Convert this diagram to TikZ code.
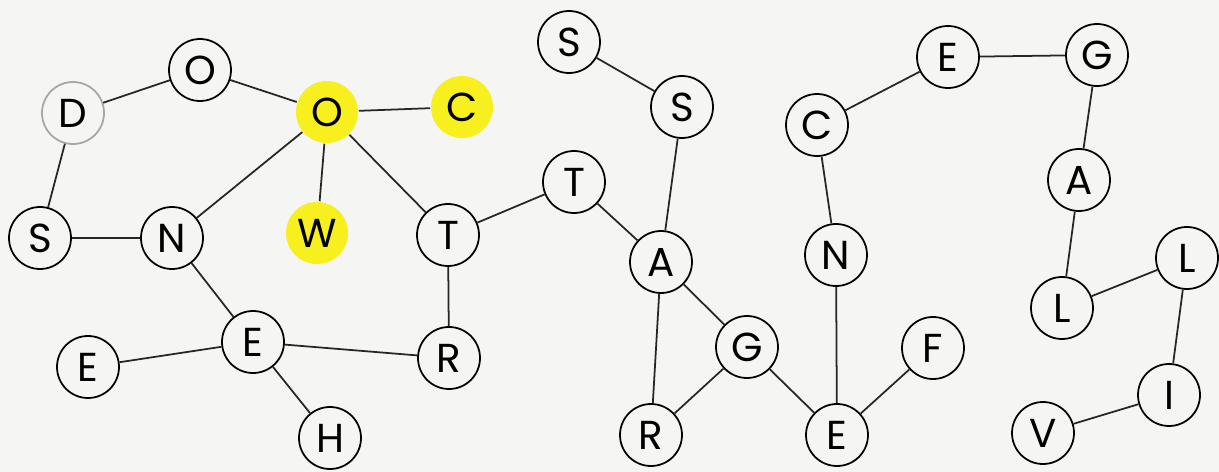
\documentclass[tikz,border=0pt]{standalone}
\usepackage{fontspec}
\setmainfont{Poppins}
\usepackage{xcolor}
\usepackage{tikz}
\usetikzlibrary{positioning}

\definecolor{paper}{RGB}{245,245,244}
\definecolor{hilite}{RGB}{247,240,30}

\begin{document}
\begin{tikzpicture}[
    letter/.style={circle, draw=black, line width=1pt, fill=paper, minimum size=1.24cm, inner sep=0pt, font=\fontsize{23}{23}\selectfont},
    marked/.style={letter, draw=none, fill=hilite},
    faint/.style={letter, draw=gray!70},
    edge/.style={line width=1pt, draw=black!85}
]
% Background
\fill[paper] (0,0) rectangle (24.38,-9.44);
\useasboundingbox (0,0) rectangle (24.38,-9.44);

% Nodes, left group
\node[faint]  (d)  at (1.46,-2.26) {D};
\node[letter] (o1) at (4.00,-1.40) {O};
\node[marked] (o2) at (6.54,-2.24) {O};
\node[marked] (c1) at (9.24,-2.14) {C};
\node[letter] (s1) at (0.80,-4.76) {S};
\node[letter] (n1) at (3.44,-4.76) {N};
\node[marked] (w)  at (6.34,-4.66) {W};
\node[letter] (t1) at (8.96,-4.70) {T};
\node[letter] (e1) at (5.06,-6.84) {E};
\node[letter] (e2) at (1.76,-7.34) {E};
\node[letter] (r1) at (8.98,-7.16) {R};
\node[letter] (h)  at (6.60,-8.76) {H};

% Nodes, middle group
\node[letter] (s2) at (11.38,-0.84) {S};
\node[letter] (s3) at (13.64,-2.14) {S};
\node[letter] (t2) at (11.48,-3.64) {T};
\node[letter] (a1) at (13.22,-5.24) {A};
\node[letter] (g1) at (14.94,-6.94) {G};
\node[letter] (r2) at (13.02,-8.70) {R};
\node[letter] (e3) at (16.74,-8.70) {E};
\node[letter] (f)  at (18.66,-6.96) {F};
\node[letter] (n2) at (16.72,-5.10) {N};
\node[letter] (c2) at (16.34,-2.50) {C};

% Nodes, right group
\node[letter] (e4) at (18.96,-1.14) {E};
\node[letter] (g2) at (21.94,-1.10) {G};
\node[letter] (a2) at (21.58,-3.60) {A};
\node[letter] (l1) at (21.24,-6.16) {L};
\node[letter] (l2) at (23.74,-5.16) {L};
\node[letter] (i)  at (23.38,-7.90) {I};
\node[letter] (v)  at (20.86,-8.66) {V};

% Edges
\draw[edge] (d) -- (o1);
\draw[edge] (o1) -- (o2);
\draw[edge] (d) -- (s1);
\draw[edge] (s1) -- (n1);
\draw[edge] (n1) -- (o2);
\draw[edge] (o2) -- (c1);
\draw[edge] (o2) -- (w);
\draw[edge] (o2) -- (t1);
\draw[edge] (n1) -- (e1);
\draw[edge] (e2) -- (e1);
\draw[edge] (e1) -- (r1);
\draw[edge] (e1) -- (h);
\draw[edge] (t1) -- (r1);
\draw[edge] (t1) -- (t2);
\draw[edge] (t2) -- (a1);
\draw[edge] (s2) -- (s3);
\draw[edge] (s3) -- (a1);
\draw[edge] (a1) -- (g1);
\draw[edge] (a1) -- (r2);
\draw[edge] (r2) -- (g1);
\draw[edge] (g1) -- (e3);
\draw[edge] (e3) -- (f);
\draw[edge] (e3) -- (n2);
\draw[edge] (n2) -- (c2);
\draw[edge] (c2) -- (e4);
\draw[edge] (e4) -- (g2);
\draw[edge] (g2) -- (a2);
\draw[edge] (a2) -- (l1);
\draw[edge] (l1) -- (l2);
\draw[edge] (l2) -- (i);
\draw[edge] (i) -- (v);

\end{tikzpicture}
\end{document}
